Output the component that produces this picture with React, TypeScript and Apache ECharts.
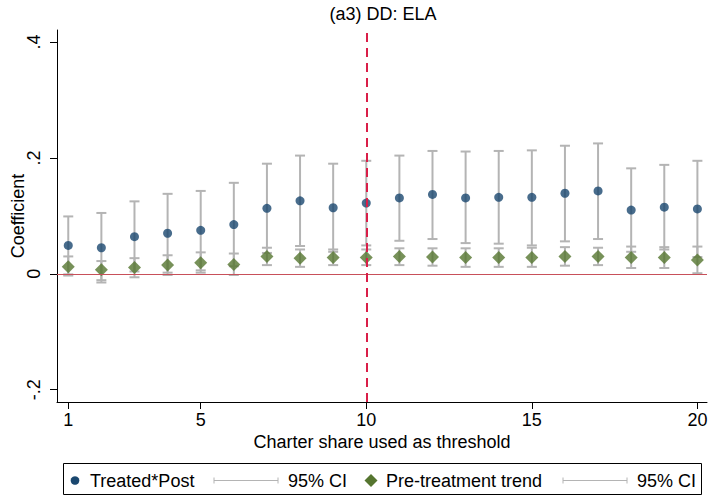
import React, { useEffect, useRef } from "react";
import * as echarts from "echarts";

const thresholds = [1, 2, 3, 4, 5, 6, 7, 8, 9, 10, 11, 12, 13, 14, 15, 16, 17, 18, 19, 20];

const treatedCoef = [0.049, 0.045, 0.064, 0.070, 0.075, 0.085, 0.113, 0.126, 0.114, 0.122, 0.131, 0.137, 0.131, 0.132, 0.132, 0.139, 0.143, 0.110, 0.115, 0.112];
const treatedHi = [0.099, 0.105, 0.125, 0.138, 0.143, 0.157, 0.190, 0.204, 0.190, 0.195, 0.204, 0.212, 0.211, 0.212, 0.213, 0.221, 0.225, 0.182, 0.188, 0.195];
const treatedLo = [-0.001, -0.015, 0.004, 0.002, 0.006, 0.013, 0.036, 0.048, 0.038, 0.049, 0.057, 0.060, 0.053, 0.052, 0.049, 0.056, 0.060, 0.038, 0.042, 0.029];

const trendCoef = [0.012, 0.007, 0.011, 0.015, 0.019, 0.016, 0.030, 0.027, 0.028, 0.028, 0.030, 0.029, 0.028, 0.028, 0.028, 0.030, 0.030, 0.028, 0.028, 0.024];
const trendHi = [0.030, 0.022, 0.027, 0.032, 0.037, 0.035, 0.045, 0.042, 0.042, 0.042, 0.044, 0.044, 0.044, 0.044, 0.045, 0.046, 0.045, 0.047, 0.046, 0.047];
const trendLo = [-0.003, -0.011, -0.006, -0.002, 0.002, -0.002, 0.015, 0.012, 0.015, 0.015, 0.015, 0.014, 0.012, 0.012, 0.012, 0.014, 0.015, 0.010, 0.010, 0.001];

const xTicks = [1, 5, 10, 15, 20];
const yTicks = [-0.2, 0, 0.2, 0.4];
const yTickLabels = ["-.2", "0", ".2", ".4"];

const titleText = "(a3) DD: ELA";
const xTitle = "Charter share used as threshold";
const yTitle = "Coefficient";
const legendLabels = ["Treated*Post", "95% CI", "Pre-treatment trend", "95% CI"];
const thresholdLine = 10;

const FONT = "'Liberation Sans', Arial, sans-serif";
const BLUE = "#1a476f";
const GREEN = "#55752f";
const GRAY = "#b4b4b4";

function ciSeries(lo: number[], hi: number[], z: number) {
  return {
    type: "custom",
    z,
    silent: true,
    data: thresholds.map((t, i) => [t, lo[i], hi[i]]),
    encode: { x: 0, y: [1, 2] },
    renderItem: (params: any, api: any) => {
      const x = api.value(0);
      const pLo = api.coord([x, api.value(1)]);
      const pHi = api.coord([x, api.value(2)]);
      const hw = 5;
      const st = { stroke: GRAY, lineWidth: 2 };
      return {
        type: "group",
        children: [
          { type: "line", shape: { x1: pLo[0], y1: pLo[1], x2: pHi[0], y2: pHi[1] }, style: st },
          { type: "line", shape: { x1: pHi[0] - hw, y1: pHi[1], x2: pHi[0] + hw, y2: pHi[1] }, style: st },
          { type: "line", shape: { x1: pLo[0] - hw, y1: pLo[1], x2: pLo[0] + hw, y2: pLo[1] }, style: st },
        ],
      };
    },
  };
}

function ciKey(x1: number, x2: number, y: number) {
  const st = { stroke: GRAY, lineWidth: 1 };
  return [
    { type: "line", shape: { x1, y1: y, x2, y2: y }, style: st },
    { type: "line", shape: { x1, y1: y - 3, x2: x1, y2: y + 3 }, style: st },
    { type: "line", shape: { x1: x2, y1: y - 3, x2, y2: y + 3 }, style: st },
  ];
}

export default function App() {
  const ref = useRef<HTMLDivElement>(null);
  useEffect(() => {
    if (!ref.current) return;
    const chart = echarts.init(ref.current, null, { renderer: "svg" });
    const ly = 480.5;
    const textStyle = (x: number, t: string) => ({
      type: "text",
      x,
      y: ly,
      style: { text: t, font: `18px ${FONT}`, fill: "#000", verticalAlign: "middle", align: "left" },
    });
    const option: any = {
      animation: false,
      backgroundColor: "#fff",
      title: {
        text: titleText,
        left: 383,
        top: 5,
        textAlign: "center",
        padding: 0,
        textStyle: { fontFamily: FONT, fontSize: 18, fontWeight: "normal", color: "#000" },
      },
      grid: { left: 57, right: 5, top: 30, bottom: 98, containLabel: false, outerBoundsMode: "none" },
      xAxis: {
        type: "value",
        min: 0.66,
        max: 20.29,
        name: xTitle,
        nameLocation: "middle",
        nameGap: 31,
        nameMoveOverlap: false,
        nameTextStyle: { fontFamily: FONT, fontSize: 18, color: "#000", verticalAlign: "top" },
        axisLine: { show: true, onZero: false, lineStyle: { color: "#000", width: 1 } },
        axisTick: { show: true, length: 7, customValues: xTicks, lineStyle: { color: "#000" } },
        axisLabel: { customValues: xTicks, margin: 9, fontFamily: FONT, fontSize: 18, color: "#000" },
        splitLine: { show: false },
      },
      yAxis: {
        type: "value",
        min: -0.2212,
        max: 0.4207,
        name: yTitle,
        nameLocation: "middle",
        nameRotate: 90,
        nameGap: 30,
        nameMoveOverlap: false,
        nameTextStyle: { fontFamily: FONT, fontSize: 18, color: "#000" },
        axisLine: { show: true, onZero: false, lineStyle: { color: "#000", width: 1 } },
        axisTick: { show: true, length: 7, customValues: yTicks, lineStyle: { color: "#000" } },
        axisLabel: {
          customValues: yTicks,
          rotate: 90,
          margin: 14,
          fontFamily: FONT,
          fontSize: 18,
          color: "#000",
          formatter: (v: number) => {
            const i = yTicks.findIndex((t) => Math.abs(t - v) < 1e-9);
            return i >= 0 ? yTickLabels[i] : "";
          },
        },
        splitLine: { show: false },
      },
      series: [
        {
          type: "line",
          data: [],
          z: 1,
          silent: true,
          markLine: {
            silent: true,
            symbol: "none",
            label: { show: false },
            animation: false,
            data: [
              { yAxis: 0, lineStyle: { color: "#c8505a", width: 1, type: "solid" } },
              { xAxis: thresholdLine, lineStyle: { color: "#d91e48", width: 2, type: [9, 6] } },
            ],
          },
        },
        ciSeries(treatedLo, treatedHi, 2),
        ciSeries(trendLo, trendHi, 2),
        {
          type: "scatter",
          z: 3,
          symbol: "circle",
          symbolSize: 9,
          itemStyle: { color: BLUE },
          data: thresholds.map((t, i) => [t, treatedCoef[i]]),
        },
        {
          type: "scatter",
          z: 4,
          symbol: "diamond",
          symbolSize: 13,
          itemStyle: { color: GREEN },
          data: thresholds.map((t, i) => [t, trendCoef[i]]),
        },
      ],
      graphic: [
        {
          type: "rect",
          shape: { x: 63.5, y: 463.5, width: 638, height: 31 },
          style: { fill: "none", stroke: "#000", lineWidth: 1 },
        },
        { type: "circle", shape: { cx: 75, cy: ly, r: 4.3 }, style: { fill: BLUE } },
        textStyle(90, legendLabels[0]),
        ...ciKey(214, 278, ly),
        textStyle(288, legendLabels[1]),
        {
          type: "polygon",
          shape: { points: [[371, ly - 6.5], [377.5, ly], [371, ly + 6.5], [364.5, ly]] },
          style: { fill: GREEN },
        },
        textStyle(386, legendLabels[2]),
        ...ciKey(563, 627, ly),
        textStyle(637, legendLabels[3]),
      ],
    };
    chart.setOption(option);
    return () => chart.dispose();
  }, []);
  return (
    <div
      ref={ref}
      style={{ position: "fixed", left: 0, top: 0, width: 712, height: 500, background: "#fff" }}
    />
  );
}
